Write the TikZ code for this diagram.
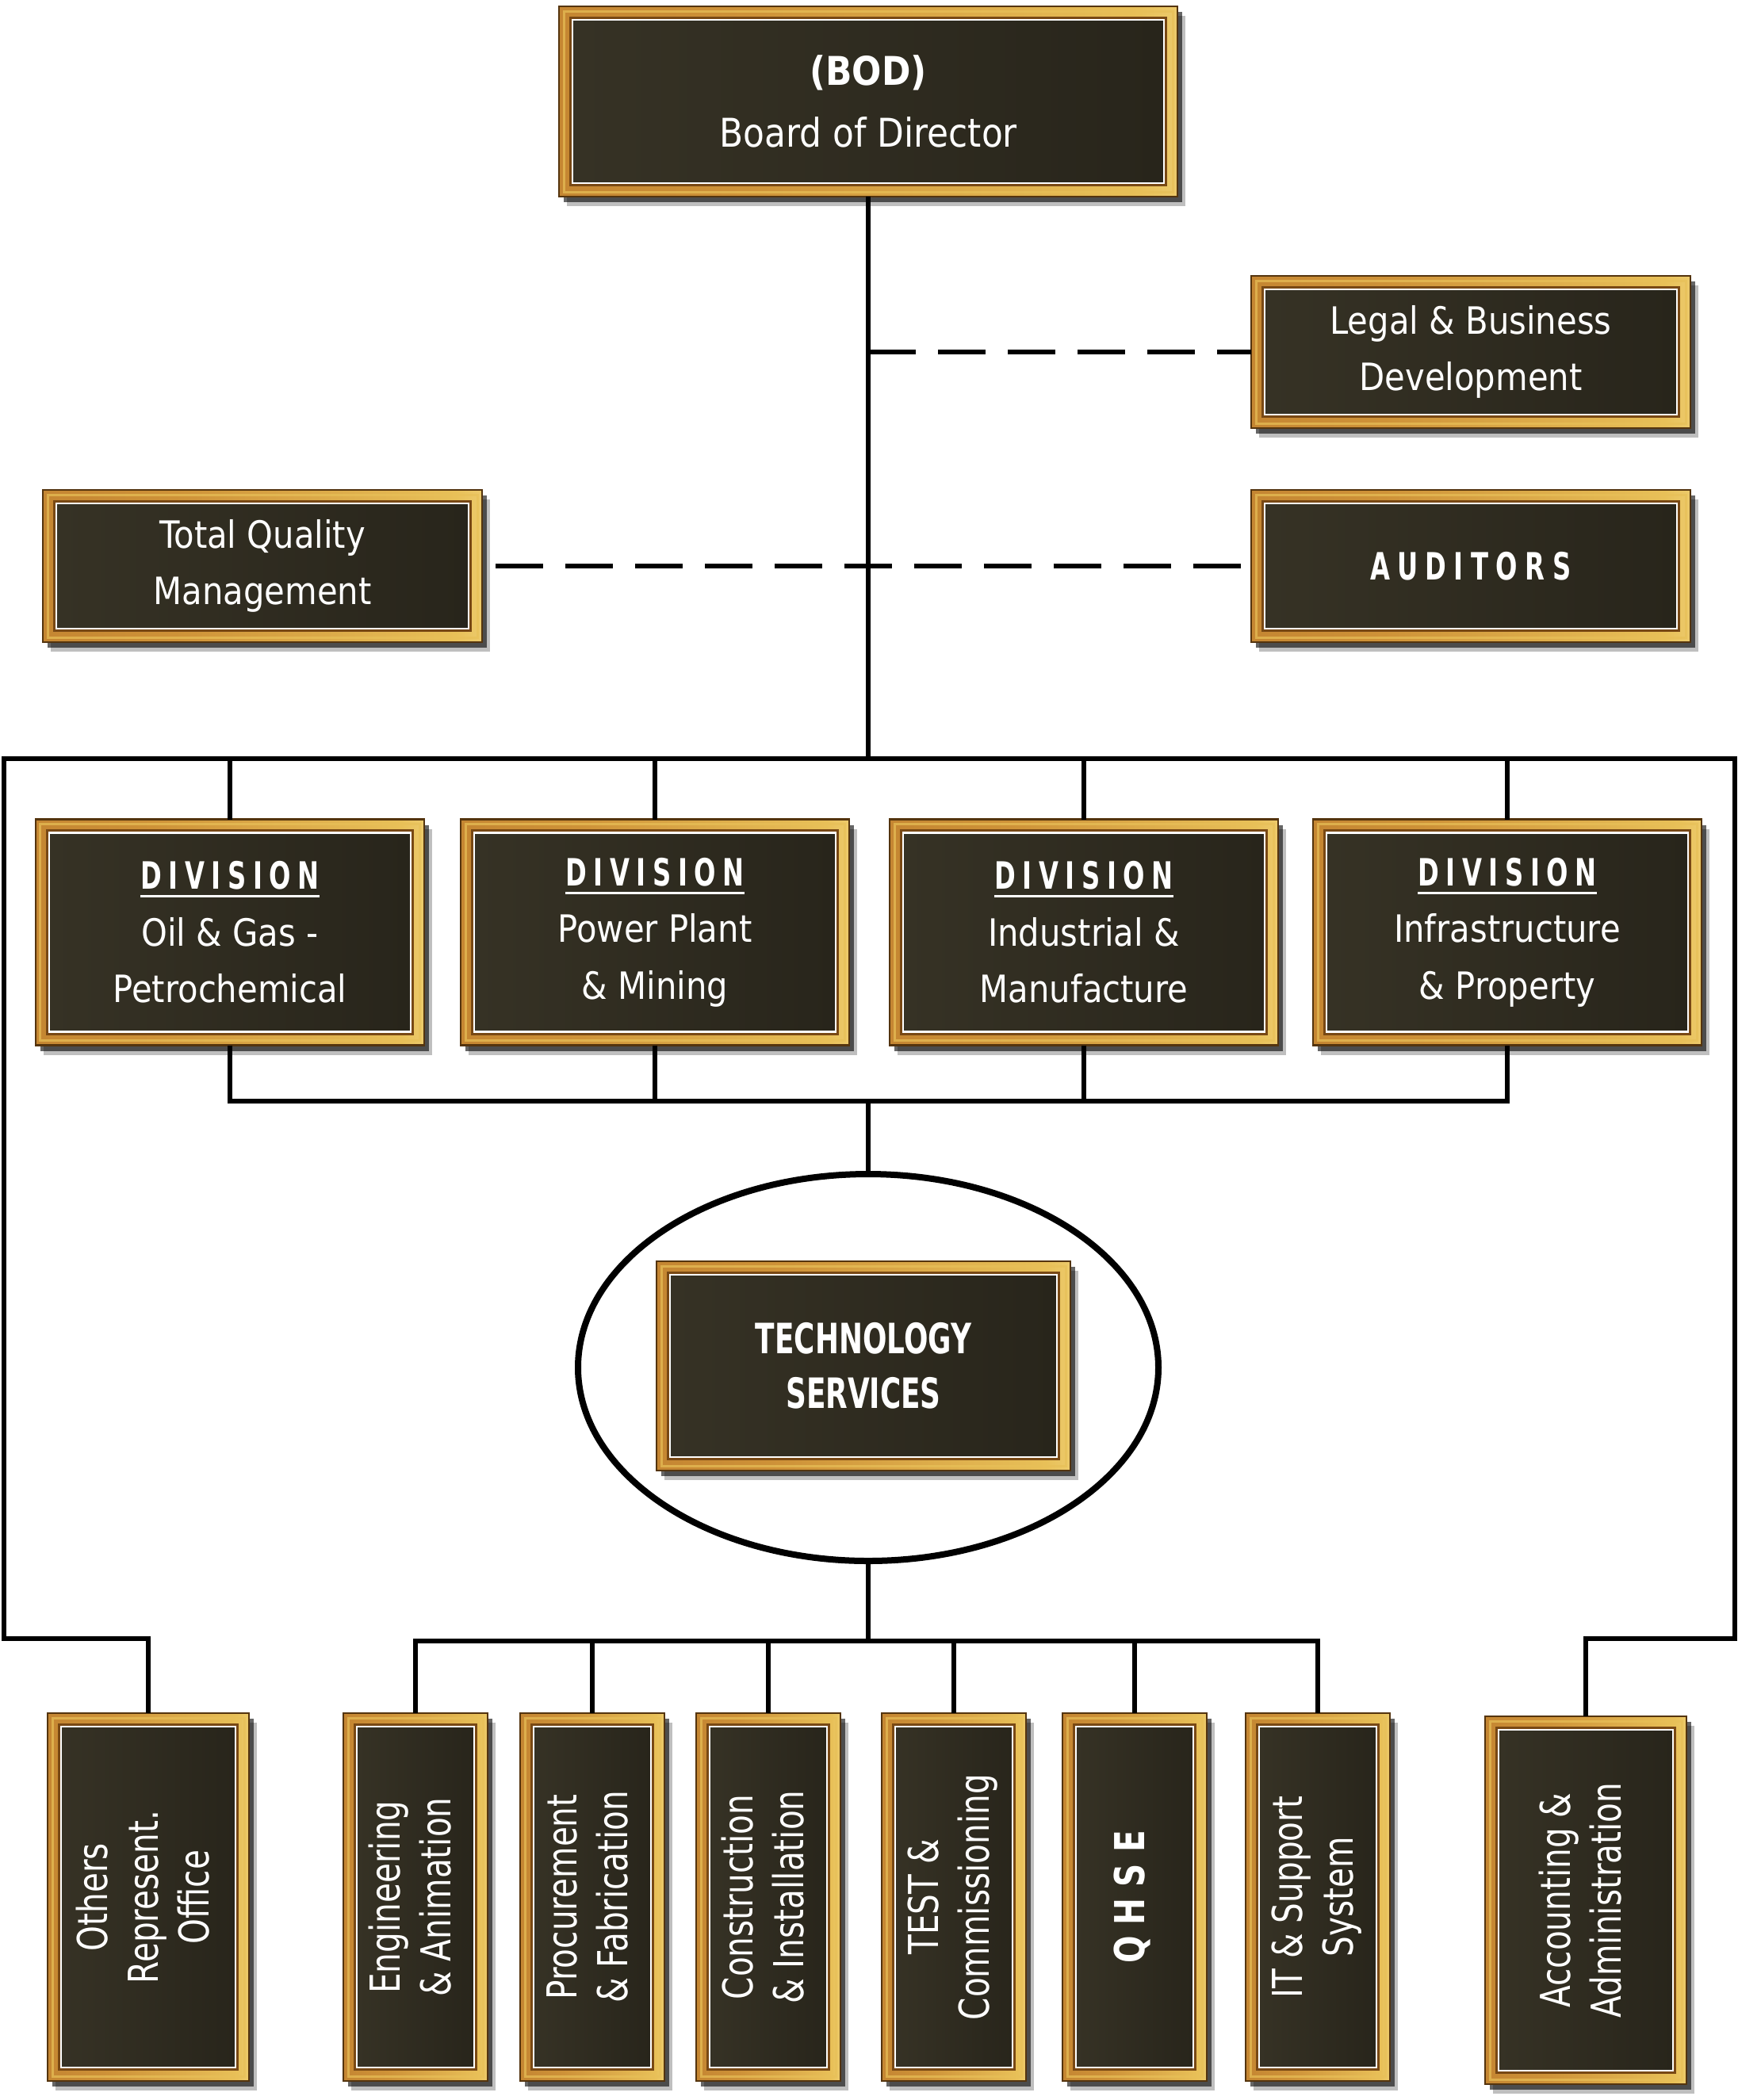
\documentclass[tikz,border=0pt]{standalone}
\usepackage{fontspec}
\usepackage{graphicx}
\usetikzlibrary{shapes.geometric,backgrounds}

\setmainfont{DejaVu Sans}
\newfontfamily\platefont{DejaVu Sans}[FakeStretch=0.88]
\newfontfamily\capsfont{DejaVu Sans}[FakeStretch=0.68]
\newfontfamily\spinefont{DejaVu Sans}[FakeStretch=0.78]

% Plate colors
\definecolor{panelA}{RGB}{54,50,37}
\definecolor{panelB}{RGB}{40,37,27}
\definecolor{goldA}{RGB}{120,72,20}
\definecolor{goldB}{RGB}{184,118,42}
\definecolor{goldC}{RGB}{206,146,56}
\definecolor{goldD}{RGB}{232,192,88}
\definecolor{goldE}{RGB}{252,238,176}
\definecolor{rimcolor}{RGB}{84,52,14}

\pgfdeclarehorizontalshading{goldframe}{100bp}{color(0bp)=(goldA); color(5bp)=(goldB); color(40bp)=(goldC); color(72bp)=(goldD); color(86bp)=(goldE); color(94bp)=(goldC); color(100bp)=(goldA)}

\newsavebox{\divsave}
\newcommand{\divhead}{\sbox{\divsave}{\capsfont\bfseries\addfontfeature{LetterSpace=18}DIVISION}%
    \usebox{\divsave}\llap{\rule[-3pt]{\wd\divsave}{0.9pt}}}
\newcommand{\spinetext}[1]{\rotatebox{90}{\begin{tabular}{@{}c@{}}#1\end{tabular}}}

\tikzset{
    plate/.style={rectangle, draw=white, line width=0.25mm, left color=panelA, right color=panelB,
        text=white, align=center, inner sep=0pt, outer sep=1.7mm,
        font=\platefont\fontsize{13.5}{20.3}\selectfont},
    topbox/.style={plate, minimum width=5.20cm, minimum height=1.58cm},
    divbox/.style={plate, minimum width=4.56cm, minimum height=2.51cm},
    spine/.style={plate, minimum width=1.48cm, minimum height=4.30cm,
        font=\spinefont\fontsize{14.8}{18.2}\selectfont},
    widespine/.style={spine, minimum width=2.20cm},
    wire/.style={line width=0.6mm},
    dashline/.style={line width=0.65mm, dash pattern=on 6mm off 2.8mm}
}

\begin{document}
\begin{tikzpicture}
    \useasboundingbox (0,0) rectangle (21.92,-26.49);

    % Top level
    \node[plate, minimum width=7.46cm, minimum height=2.06cm,
        font=\platefont\fontsize{14.2}{22.2}\selectfont] (bod) at (10.95,-1.28) {{\bfseries (BOD)}\\ Board of Director};
    \node[topbox] (legal) at (18.55,-4.44) {Legal \& Business\\ Development};
    \node[topbox] (aud) at (18.55,-7.14) {\capsfont\bfseries\addfontfeature{LetterSpace=20}AUDITORS};
    \node[topbox] (tqm) at (3.31,-7.14) {Total Quality\\ Management};

    % Divisions
    \node[divbox] (div1) at (2.90,-11.76) {\divhead\\ Oil \& Gas -\\ Petrochemical};
    \node[divbox] (div2) at (8.26,-11.76) {\divhead\\ Power Plant\\ \& Mining};
    \node[divbox] (div3) at (13.67,-11.76) {\divhead\\ Industrial \&\\ Manufacture};
    \node[divbox] (div4) at (19.01,-11.76) {\divhead\\ Infrastructure\\ \& Property};

    % Technology services
    \node[draw, ellipse, line width=0.8mm, minimum width=7.32cm, minimum height=4.88cm] (ring) at (10.95,-17.25) {};
    \node[plate, minimum width=4.88cm, minimum height=2.30cm,
        font=\capsfont\bfseries\fontsize{15}{19.6}\selectfont] (tech) at (10.89,-17.23) {TECHNOLOGY\\ SERVICES};

    % Departments
    \node[widespine] (others) at (1.87,-23.93) {\spinetext{Others\\ Represent.\\ Office}};
    \node[spine] (eng) at (5.24,-23.93) {\spinetext{Engineering\\ \& Animation}};
    \node[spine] (proc) at (7.47,-23.93) {\spinetext{Procurement\\ \& Fabrication}};
    \node[spine] (cons) at (9.69,-23.93) {\spinetext{Construction\\ \& Installation}};
    \node[spine] (test) at (12.03,-23.93) {\spinetext{TEST \&\\ Commissioning}};
    \node[spine] (qhse) at (14.31,-23.93) {\spinetext{\bfseries Q H S E}};
    \node[spine] (itsys) at (16.62,-23.93) {\spinetext{IT \& Support\\ System}};
    \node[widespine] (acct) at (20.00,-23.97) {\spinetext{Accounting \&\\ Administration}};

    % Gold frames and shadows
    \begin{scope}[on background layer]
        \fill[white] (0,0) rectangle (21.92,-26.49);
        \foreach \n in {bod,legal,aud,tqm,div1,div2,div3,div4,tech,others,eng,proc,cons,test,qhse,itsys,acct} {
            \fill[black, opacity=0.25] ([shift={(0.10,-0.12)}]\n.south west) rectangle ([shift={(0.10,-0.12)}]\n.north east);
            \fill[black, opacity=0.6] ([shift={(0.06,-0.07)}]\n.south west) rectangle ([shift={(0.06,-0.07)}]\n.north east);
            \shade[shading=goldframe] (\n.south west) rectangle (\n.north east);
            \draw[goldD, line width=0.3mm, opacity=0.7] ([shift={(0.06,0.06)}]\n.south west) rectangle ([shift={(-0.06,-0.06)}]\n.north east);
            \draw[rimcolor, line width=0.25mm] (\n.south west) rectangle (\n.north east);
            \draw[goldA, line width=0.45mm] ([shift={(0.15,0.15)}]\n.south west) rectangle ([shift={(-0.15,-0.15)}]\n.north east);
        }
    \end{scope}

    % Bus coordinates
    \coordinate (tl) at (0.05,-9.57);
    \coordinate (tr) at (21.88,-9.57);
    \coordinate (bl) at (0.05,-20.67);
    \coordinate (br) at (21.88,-20.67);
    \coordinate (midbus) at (10.95,-13.89);
    \coordinate (lowbus) at (10.95,-20.70);

    % Connectors
    \draw[wire] (bod.south) -- (bod.south |- tl);
    \draw[wire] (others.north) |- (bl) -- (tl) -- (tr) -- (br) -| (acct.north);
    \foreach \d in {div1,div2,div3,div4}
        \draw[wire] (\d.north |- tl) -- (\d.north);
    \draw[wire] (div1.south) |- (midbus) -| (div4.south);
    \draw[wire] (div2.south) -- (div2.south |- midbus);
    \draw[wire] (div3.south) -- (div3.south |- midbus);
    \draw[wire] (midbus) -- (ring.north);
    \draw[wire] (ring.south) -- (lowbus);
    \draw[wire] (eng.north) |- (lowbus) -| (itsys.north);
    \foreach \s in {proc,cons,test,qhse}
        \draw[wire] (\s.north |- lowbus) -- (\s.north);

    % Staff lines
    \draw[dashline] (bod.south |- legal.west) -- (legal.west);
    \draw[dashline, shorten <=0.17cm] (tqm.east) -- (aud.west);

\end{tikzpicture}
\end{document}
